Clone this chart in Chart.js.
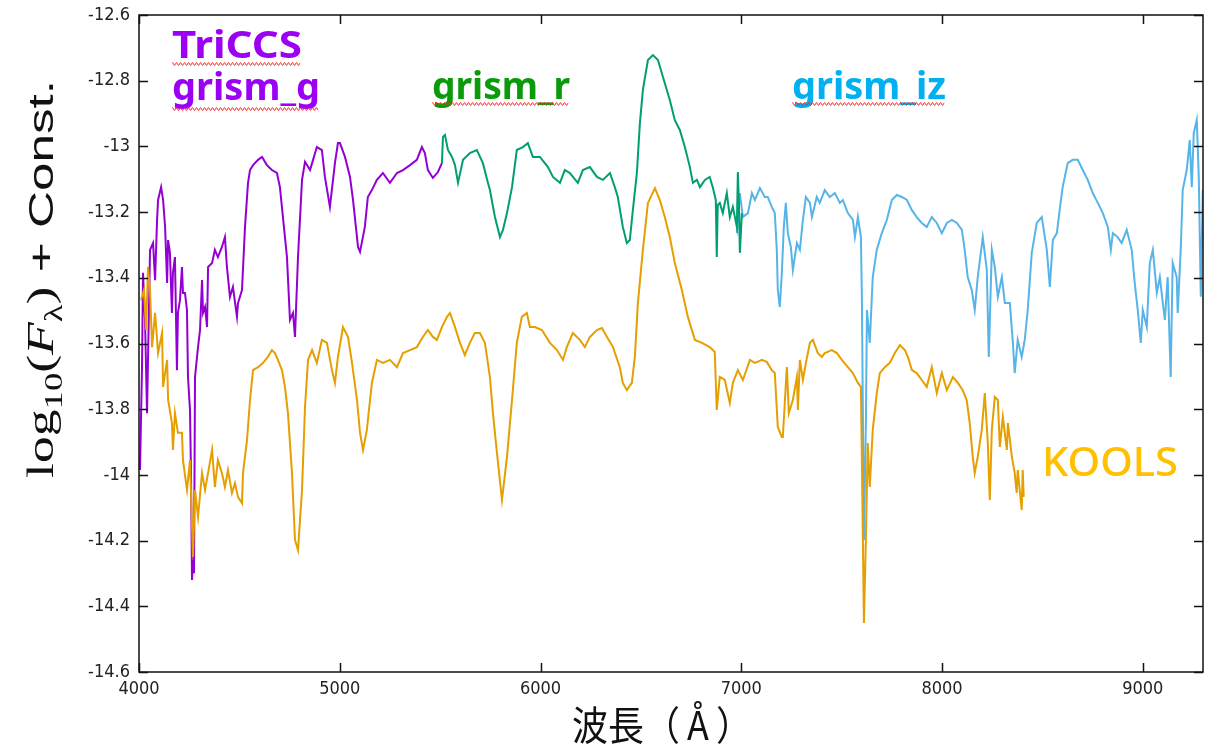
<!DOCTYPE html>
<html><head><meta charset="utf-8">
<script src="https://cdn.jsdelivr.net/npm/chart.js@4.4.1/dist/chart.umd.min.js"></script>
<style>html,body{margin:0;padding:0;background:#fff;}#wrap{width:1206px;height:749px;}</style>
</head><body><div id="wrap"><canvas id="c" width="1206" height="749"></canvas></div>
<script>
// ---- tick labels ----
const xTicks = [4000, 5000, 6000, 7000, 8000, 9000];
const yTicks = [-14.6, -14.4, -14.2, -14, -13.8, -13.6, -13.4, -13.2, -13, -12.8, -12.6];

// ---- series: [wavelength (Å), log10 flux + const] ----
const triccsG = [[4005,-13.985],[4015,-13.672],[4020,-13.385],[4030,-13.528],[4040,-13.812],[4055,-13.315],[4070,-13.294],[4080,-13.407],[4090,-13.224],[4095,-13.163],[4110,-13.124],[4120,-13.163],[4130,-13.245],[4140,-13.416],[4145,-13.285],[4154,-13.324],[4164,-13.507],[4169,-13.385],[4179,-13.337],[4189,-13.681],[4194,-13.507],[4204,-13.468],[4214,-13.367],[4219,-13.446],[4229,-13.446],[4239,-13.498],[4244,-13.702],[4254,-13.802],[4259,-13.994],[4264,-14.320],[4269,-14.259],[4274,-14.299],[4279,-13.702],[4294,-13.611],[4304,-13.559],[4314,-13.407],[4319,-13.507],[4329,-13.489],[4339,-13.550],[4344,-13.367],[4364,-13.355],[4378,-13.315],[4393,-13.337],[4413,-13.306],[4428,-13.276],[4438,-13.367],[4453,-13.458],[4468,-13.428],[4488,-13.519],[4493,-13.477],[4513,-13.437],[4528,-13.245],[4543,-13.111],[4553,-13.072],[4568,-13.057],[4593,-13.041],[4613,-13.032],[4637,-13.057],[4662,-13.072],[4687,-13.081],[4702,-13.124],[4717,-13.215],[4737,-13.337],[4752,-13.528],[4767,-13.507],[4777,-13.580],[4792,-13.337],[4812,-13.102],[4827,-13.047],[4852,-13.072],[4867,-13.041],[4886,-13.002],[4911,-13.011],[4926,-13.093],[4951,-13.184],[4976,-13.051],[4991,-12.990],[5001,-12.990],[5026,-13.032],[5051,-13.093],[5066,-13.163],[5091,-13.306],[5101,-13.321],[5125,-13.245],[5140,-13.154],[5160,-13.133],[5185,-13.102],[5215,-13.081],[5250,-13.111],[5285,-13.081],[5315,-13.072],[5350,-13.057],[5384,-13.041],[5409,-13.002],[5424,-13.020],[5439,-13.072],[5464,-13.096],[5489,-13.078],[5509,-13.051]];

const triccsR = [[5509,-13.051],[5514,-12.971],[5524,-12.965],[5539,-13.011],[5559,-13.032],[5574,-13.057],[5589,-13.111],[5614,-13.041],[5648,-13.020],[5683,-13.011],[5713,-13.051],[5738,-13.111],[5748,-13.133],[5773,-13.215],[5798,-13.276],[5813,-13.254],[5833,-13.203],[5858,-13.124],[5882,-13.011],[5912,-13.002],[5937,-12.990],[5962,-13.032],[5997,-13.032],[6037,-13.063],[6062,-13.093],[6097,-13.111],[6121,-13.072],[6146,-13.081],[6186,-13.111],[6211,-13.072],[6246,-13.063],[6281,-13.093],[6311,-13.102],[6346,-13.081],[6370,-13.124],[6385,-13.154],[6410,-13.245],[6430,-13.294],[6445,-13.285],[6460,-13.194],[6480,-13.081],[6495,-12.929],[6510,-12.828],[6535,-12.737],[6560,-12.722],[6585,-12.737],[6610,-12.789],[6644,-12.859],[6669,-12.920],[6694,-12.950],[6719,-13.002],[6744,-13.063],[6759,-13.111],[6779,-13.102],[6794,-13.124],[6819,-13.102],[6843,-13.093],[6858,-13.124],[6873,-13.163],[6878,-13.337],[6883,-13.178],[6893,-13.172],[6908,-13.203],[6928,-13.142],[6943,-13.215],[6958,-13.184],[6978,-13.245],[6983,-13.078],[6988,-13.163],[6993,-13.324],[7003,-13.203]];

const triccsIZ = [[6978,-13.264],[6993,-13.142],[7008,-13.215],[7033,-13.203],[7053,-13.142],[7068,-13.163],[7093,-13.127],[7117,-13.154],[7132,-13.154],[7152,-13.184],[7167,-13.203],[7177,-13.315],[7182,-13.437],[7192,-13.489],[7202,-13.385],[7212,-13.245],[7222,-13.172],[7232,-13.264],[7247,-13.306],[7257,-13.376],[7277,-13.294],[7292,-13.315],[7307,-13.224],[7322,-13.154],[7342,-13.172],[7352,-13.215],[7376,-13.154],[7391,-13.172],[7416,-13.133],[7441,-13.154],[7466,-13.142],[7491,-13.172],[7506,-13.163],[7531,-13.203],[7556,-13.224],[7566,-13.276],[7581,-13.215],[7596,-13.276],[7601,-13.468],[7611,-14.198],[7621,-13.833],[7626,-13.498],[7640,-13.598],[7655,-13.398],[7675,-13.315],[7700,-13.264],[7725,-13.224],[7750,-13.163],[7775,-13.148],[7800,-13.154],[7825,-13.163],[7850,-13.194],[7874,-13.215],[7899,-13.233],[7924,-13.245],[7949,-13.215],[7974,-13.233],[7999,-13.264],[8024,-13.233],[8049,-13.224],[8074,-13.233],[8099,-13.254],[8113,-13.315],[8128,-13.398],[8148,-13.437],[8163,-13.498],[8178,-13.398],[8203,-13.276],[8223,-13.376],[8233,-13.641],[8248,-13.315],[8263,-13.367],[8278,-13.458],[8298,-13.398],[8313,-13.477],[8338,-13.477],[8353,-13.598],[8362,-13.690],[8377,-13.589],[8397,-13.641],[8412,-13.589],[8427,-13.498],[8447,-13.324],[8472,-13.233],[8497,-13.215],[8522,-13.315],[8537,-13.428],[8552,-13.285],[8572,-13.264],[8586,-13.194],[8601,-13.124],[8626,-13.051],[8651,-13.041],[8676,-13.041],[8701,-13.072],[8726,-13.102],[8751,-13.142],[8776,-13.172],[8801,-13.203],[8826,-13.245],[8841,-13.315],[8851,-13.264],[8875,-13.276],[8895,-13.294],[8920,-13.254],[8945,-13.315],[8960,-13.416],[8975,-13.498],[8990,-13.598],[9000,-13.498],[9020,-13.550],[9035,-13.355],[9050,-13.315],[9070,-13.446],[9085,-13.398],[9100,-13.477],[9110,-13.528],[9124,-13.398],[9139,-13.702],[9149,-13.355],[9169,-13.398],[9174,-13.507],[9189,-13.315],[9199,-13.133],[9219,-13.072],[9234,-12.981],[9244,-13.124],[9254,-12.959],[9269,-12.920],[9279,-13.093],[9289,-13.458],[9299,-13.133]];

const kools = [[4010,-13.468],[4025,-13.437],[4035,-13.559],[4045,-13.367],[4055,-13.437],[4065,-13.611],[4080,-13.507],[4095,-13.629],[4115,-13.568],[4120,-13.732],[4140,-13.650],[4145,-13.772],[4164,-13.842],[4169,-13.924],[4179,-13.812],[4194,-13.872],[4214,-13.872],[4219,-13.955],[4239,-14.046],[4254,-13.955],[4269,-14.250],[4279,-14.046],[4294,-14.128],[4314,-13.994],[4329,-14.046],[4344,-13.994],[4364,-13.924],[4378,-14.037],[4393,-13.955],[4413,-13.994],[4428,-14.037],[4443,-13.985],[4463,-14.055],[4478,-14.025],[4493,-14.067],[4513,-14.086],[4518,-13.994],[4538,-13.894],[4553,-13.772],[4568,-13.681],[4593,-13.672],[4618,-13.659],[4642,-13.641],[4662,-13.620],[4677,-13.629],[4692,-13.650],[4712,-13.681],[4727,-13.732],[4742,-13.812],[4762,-13.994],[4777,-14.198],[4792,-14.229],[4812,-14.046],[4827,-13.793],[4842,-13.650],[4862,-13.620],[4886,-13.659],[4911,-13.589],[4936,-13.598],[4961,-13.681],[4976,-13.720],[4991,-13.641],[5016,-13.550],[5041,-13.580],[5061,-13.659],[5086,-13.772],[5101,-13.872],[5116,-13.924],[5135,-13.863],[5160,-13.720],[5185,-13.650],[5215,-13.659],[5250,-13.650],[5285,-13.672],[5315,-13.629],[5350,-13.620],[5384,-13.611],[5414,-13.580],[5439,-13.559],[5464,-13.580],[5484,-13.589],[5509,-13.550],[5534,-13.519],[5549,-13.507],[5574,-13.550],[5599,-13.598],[5623,-13.635],[5648,-13.598],[5673,-13.568],[5698,-13.568],[5723,-13.598],[5748,-13.702],[5763,-13.812],[5783,-13.933],[5808,-14.076],[5833,-13.945],[5858,-13.772],[5882,-13.598],[5907,-13.519],[5932,-13.507],[5947,-13.550],[5972,-13.550],[6007,-13.559],[6047,-13.598],[6082,-13.620],[6112,-13.650],[6131,-13.611],[6161,-13.568],[6196,-13.589],[6221,-13.611],[6246,-13.580],[6281,-13.559],[6306,-13.553],[6331,-13.580],[6361,-13.611],[6395,-13.672],[6410,-13.720],[6430,-13.742],[6455,-13.720],[6470,-13.641],[6485,-13.477],[6510,-13.315],[6535,-13.172],[6570,-13.127],[6594,-13.163],[6619,-13.215],[6644,-13.276],[6669,-13.355],[6704,-13.437],[6734,-13.519],[6769,-13.589],[6804,-13.598],[6843,-13.611],[6868,-13.626],[6878,-13.802],[6893,-13.702],[6918,-13.711],[6943,-13.781],[6958,-13.720],[6983,-13.681],[7008,-13.711],[7043,-13.650],[7068,-13.659],[7103,-13.650],[7127,-13.656],[7152,-13.681],[7167,-13.690],[7182,-13.854],[7202,-13.885],[7207,-13.885],[7227,-13.672],[7237,-13.812],[7257,-13.772],[7277,-13.702],[7282,-13.802],[7292,-13.650],[7307,-13.711],[7322,-13.659],[7342,-13.598],[7357,-13.589],[7381,-13.629],[7401,-13.641],[7416,-13.629],[7451,-13.620],[7476,-13.629],[7501,-13.650],[7531,-13.672],[7556,-13.690],[7581,-13.720],[7596,-13.732],[7601,-13.964],[7611,-14.451],[7621,-14.189],[7630,-13.903],[7640,-14.037],[7655,-13.863],[7675,-13.751],[7690,-13.690],[7715,-13.672],[7740,-13.659],[7765,-13.629],[7790,-13.605],[7815,-13.620],[7830,-13.641],[7850,-13.681],[7874,-13.690],[7899,-13.711],[7924,-13.732],[7949,-13.672],[7974,-13.751],[7999,-13.690],[8024,-13.742],[8054,-13.702],[8079,-13.720],[8103,-13.742],[8123,-13.772],[8138,-13.842],[8153,-13.945],[8163,-13.994],[8178,-13.945],[8198,-13.863],[8213,-13.751],[8228,-13.903],[8238,-14.076],[8248,-13.863],[8263,-13.763],[8278,-13.772],[8288,-13.915],[8303,-13.824],[8323,-13.924],[8328,-13.842],[8348,-13.945],[8362,-13.994],[8372,-14.055],[8377,-13.985],[8397,-14.107],[8402,-13.985],[8407,-14.067]];

const seriesNames = ['KOOLS', 'grism_r', 'grism_iz', 'grism_g'];
const seriesColors = ['#E69F00', '#009E73', '#56B4E9', '#9400D3'];
const seriesData = [kools, triccsR, triccsIZ, triccsG];

const condensed = "'DejaVu Sans Condensed','Liberation Sans Narrow',sans-serif";
const serif = "'Liberation Serif','DejaVu Serif',serif";
const sans = "'Liberation Sans','Noto Sans',sans-serif";

function fitText(ctx, text, left, baseline, width, font, color) {
  ctx.save();
  ctx.font = font;
  const w = ctx.measureText(text).width;
  ctx.translate(left, baseline);
  ctx.scale(width / w, 1);
  ctx.fillStyle = color;
  ctx.textBaseline = 'alphabetic';
  ctx.textAlign = 'left';
  ctx.fillText(text, 0, 0);
  ctx.restore();
}
function squiggle(ctx, x0, x1, y) {
  ctx.save();
  ctx.strokeStyle = 'rgba(255,40,40,0.85)';
  ctx.lineWidth = 1;
  ctx.beginPath();
  for (let x = x0; x <= x1; x += 1) {
    const yy = y + ((Math.round(x - x0) % 4) < 2 ? -1.2 : 1.2);
    if (x === x0) ctx.moveTo(x, yy); else ctx.lineTo(x, yy);
  }
  ctx.stroke();
  ctx.restore();
}

const decor = {
  id: 'decor',
  afterDraw(chart) {
    const { ctx, chartArea: a, scales: { x, y } } = chart;
    // frame and inward ticks
    ctx.save();
    ctx.strokeStyle = '#111';
    ctx.lineWidth = 1.5;
    ctx.strokeRect(a.left, a.top, a.right - a.left, a.bottom - a.top);
    const L = 9;
    ctx.beginPath();
    xTicks.forEach(v => {
      const px = Math.round(x.getPixelForValue(v)) + 0.5;
      ctx.moveTo(px, a.bottom); ctx.lineTo(px, a.bottom - L);
      ctx.moveTo(px, a.top); ctx.lineTo(px, a.top + L);
    });
    yTicks.forEach(v => {
      const py = Math.round(y.getPixelForValue(v)) + 0.5;
      ctx.moveTo(a.left, py); ctx.lineTo(a.left + L, py);
      ctx.moveTo(a.right, py); ctx.lineTo(a.right - L, py);
    });
    ctx.stroke();
    ctx.restore();

    // annotations
    const bold = "bold 38px 'Noto Sans','Liberation Sans',sans-serif";
    fitText(ctx, 'TriCCS', 172, 58, 130, bold, '#9B00F5');
    fitText(ctx, 'grism_g', 172, 100, 148, bold, '#9B00F5');
    fitText(ctx, 'grism_r', 432, 99, 138, bold, '#0A9A0A');
    fitText(ctx, 'grism_iz', 792, 99, 154, bold, '#00B0F0');
    fitText(ctx, 'KOOLS', 1042, 476, 136, "500 39px 'Noto Sans','Liberation Sans',sans-serif", '#FFC000');
    squiggle(ctx, 172, 300, 64);
    squiggle(ctx, 172, 318, 109);
    squiggle(ctx, 432, 568, 104);
    squiggle(ctx, 792, 944, 104);

    // x-axis title
    ctx.save();
    ctx.font = "40px 'Noto Sans CJK JP',sans-serif";
    ctx.fillStyle = '#111';
    ctx.textAlign = 'center';
    ctx.textBaseline = 'middle';
    const xt = '波長（\u2009Å\u2009）';
    const xw = ctx.measureText(xt).width;
    ctx.translate(662, 725);
    ctx.scale(180 / xw, 1);
    ctx.fillText(xt, 0, 0);
    ctx.restore();

    // y-axis title: log10(Fλ) + Const.
    const pieces = [
      { t: 'log', f: `44px ${serif}`, dy: 0 },
      { t: '10', f: `30px ${serif}`, dy: 9 },
      { t: '(', f: `44px ${serif}`, dy: 0 },
      { t: 'F', f: `italic 44px ${serif}`, dy: 0 },
      { t: 'λ', f: `30px ${serif}`, dy: 9 },
      { t: ')', f: `44px ${serif}`, dy: 0 },
      { t: ' + ', f: `42px ${sans}`, dy: 0 },
      { t: 'Const.', f: `42px ${sans}`, dy: 0 }
    ];
    ctx.save();
    let W = 0;
    pieces.forEach(p => { ctx.font = p.f; p.w = ctx.measureText(p.t).width; W += p.w; });
    const target = 398;
    const s = target / W;
    ctx.translate(53, 279);
    ctx.rotate(-Math.PI / 2);
    ctx.fillStyle = '#111';
    ctx.textBaseline = 'alphabetic';
    let u = -target / 2;
    pieces.forEach(p => {
      ctx.save();
      ctx.font = p.f;
      ctx.translate(u, p.dy);
      ctx.scale(s, 0.85);
      ctx.fillText(p.t, 0, 0);
      ctx.restore();
      u += p.w * s;
    });
    ctx.restore();
  }
};

new Chart(document.getElementById('c'), {
  type: 'scatter',
  data: {
    datasets: seriesData.map((d, i) => ({
      label: seriesNames[i],
      data: d.map(p => ({ x: p[0], y: p[1] })),
      showLine: true,
      borderColor: seriesColors[i],
      backgroundColor: seriesColors[i],
      borderWidth: 2,
      pointRadius: 0,
      tension: 0,
      fill: false
    }))
  },
  options: {
    responsive: false,
    animation: false,
    devicePixelRatio: 1,
    layout: { padding: { top: 15, right: 3, left: 0, bottom: 0 } },
    plugins: { legend: { display: false }, tooltip: { enabled: false } },
    scales: {
      x: {
        type: 'linear', min: 4000, max: 9300,
        afterBuildTicks: s => { s.ticks = xTicks.map(v => ({ value: v })); },
        afterFit: s => { s.height = 77; s.paddingLeft = 0; s.paddingRight = 0; },
        grid: { display: false, drawTicks: false },
        border: { display: false },
        ticks: { font: { family: condensed, size: 18 }, color: '#222', padding: 7, maxRotation: 0, autoSkip: false, callback: v => String(v) }
      },
      y: {
        type: 'linear', min: -14.6, max: -12.6,
        afterBuildTicks: s => { s.ticks = yTicks.map(v => ({ value: v })); },
        afterFit: s => { s.width = 139; s.paddingTop = 0; s.paddingBottom = 0; },
        grid: { display: false, drawTicks: false },
        border: { display: false },
        ticks: { font: { family: condensed, size: 18 }, color: '#222', padding: 9, autoSkip: false, callback: v => String(v) }
      }
    }
  },
  plugins: [decor]
});
</script>
</body></html>
